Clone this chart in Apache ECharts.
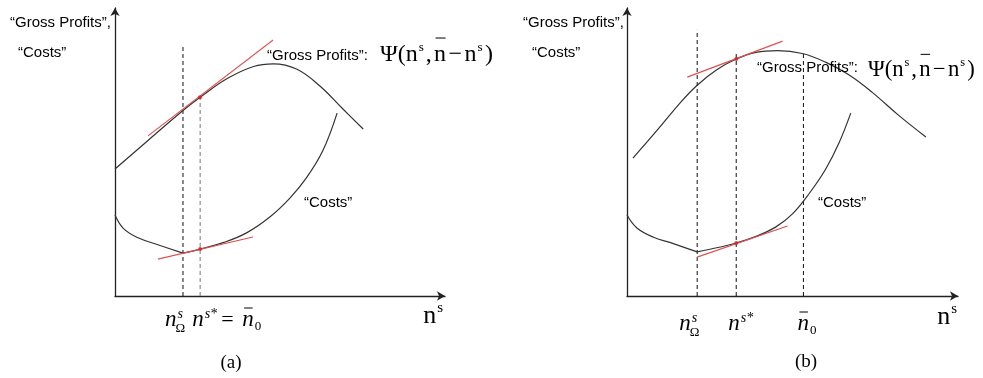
<!DOCTYPE html>
<html>
<head>
<meta charset="utf-8">
<script src="https://cdn.jsdelivr.net/npm/echarts@6/dist/echarts.min.js"></script>
<style>
  html, body { margin: 0; padding: 0; background: #fff; }
  #chart { width: 983px; height: 378px; }
</style>
</head>
<body>
<div id="chart"></div>
<script>
// ---- Panel (a): n^s* coincides with n̄0 ----
const grossA = [[0, 4.41], [1.0, 5.40], [2.06, 6.44], [2.58, 6.90], [3.4, 7.55], [4.2, 7.97],
  [4.8, 8.06], [5.5, 7.88], [6.2, 7.30], [6.9, 6.50], [7.52, 5.80]];
const costLeftA = [[0, 2.81], [0.25, 2.35], [0.7, 2.02], [1.3, 1.78], [2.06, 1.49]];
const costRightA = [[2.06, 1.49], [2.58, 1.63], [3.3, 1.86], [4.0, 2.20], [4.7, 2.75],
  [5.3, 3.40], [5.8, 4.10], [6.3, 5.05], [6.73, 6.35]];
const grossTangentA = [[1.0, 5.56], [4.79, 8.89]];
const costTangentA = [[1.30, 1.28], [4.18, 2.05]];
const nOmegaA = 2.06;
const nStarA = 2.58;
const dashTopA = [8.75, 6.90];          // tops of the dashed guides at nOmega, nStar
const tangentPointsA = [[2.58, 6.90], [2.58, 1.63]];

// ---- Panel (b): n^s* lies left of n̄0 ----
const grossB = [[0.18, 4.79], [0.9, 5.74], [1.6, 6.70], [2.12, 7.32], [2.7, 7.85], [3.3, 8.23],
  [3.9, 8.46], [4.55, 8.52], [5.3, 8.42], [6.0, 8.12], [6.7, 7.68], [7.4, 7.08],
  [8.2, 6.28], [9.03, 5.52]];
const costLeftB = [[0, 2.81], [0.3, 2.36], [0.8, 2.04], [1.4, 1.82], [2.12, 1.53]];
const costRightB = [[2.12, 1.53], [2.82, 1.70], [3.3, 1.84], [3.9, 2.07], [4.5, 2.40],
  [5.0, 2.85], [5.5, 3.55], [6.0, 4.40], [6.4, 5.30], [6.76, 6.35]];
const grossTangentB = [[1.82, 7.60], [4.70, 8.85]];
const costTangentB = [[2.12, 1.35], [4.85, 2.43]];
const nOmegaB = 2.12;
const nStarB = 3.30;
const nBar0B = 5.33;
const dashTopB = [9.24, 8.44, 8.44];    // tops at nOmega, nStar, n̄0
const tangentPointsB = [[3.30, 8.23], [3.30, 1.84]];

const CURVE = '#333';
const RED = '#e0504f';
const SANS = '"Liberation Sans", Arial, sans-serif';
const SERIF = '"Liberation Serif", "Times New Roman", serif';

const chart = echarts.init(document.getElementById('chart'), null, { renderer: 'canvas' });

function axisPair(idx) {
  const line = {
    show: true,
    symbol: ['none', 'arrow'],
    symbolSize: [7, 8],
    lineStyle: { color: '#222', width: 1.3 }
  };
  const base = { type: 'value', gridIndex: idx, min: 0, max: 10, axisLine: line,
    axisTick: { show: false }, axisLabel: { show: false }, splitLine: { show: false } };
  return { x: Object.assign({}, base), y: Object.assign({}, base) };
}
const axA = axisPair(0), axB = axisPair(1);

function curve(data, idx) {
  return { type: 'line', xAxisIndex: idx, yAxisIndex: idx, data: data, smooth: 0.4,
           symbol: 'none', silent: true, clip: false,
           lineStyle: { color: CURVE, width: 1.2 } };
}
function straight(data, idx, color) {
  return { type: 'line', xAxisIndex: idx, yAxisIndex: idx, data: data, smooth: false,
           symbol: 'none', silent: true, clip: false,
           lineStyle: { color: color, width: 1.1 } };
}
function guide(x, top, idx, color) {
  return { type: 'line', xAxisIndex: idx, yAxisIndex: idx, data: [[x, 0], [x, top]],
           symbol: 'none', silent: true, clip: false,
           lineStyle: { color: color || '#111', width: 1, type: [4, 3] } };
}
function dots(data, idx) {
  return { type: 'scatter', xAxisIndex: idx, yAxisIndex: idx, data: data, symbolSize: 4,
           silent: true, itemStyle: { color: '#d42020' }, z: 5 };
}

chart.setOption({
  animation: false,
  backgroundColor: '#fff',
  grid: [
    { left: 115, top: 8, width: 330, height: 288 },
    { left: 627, top: 8, width: 331, height: 288 }
  ],
  xAxis: [axA.x, axB.x],
  yAxis: [axA.y, axB.y],
  series: [
    guide(nOmegaA, dashTopA[0], 0),
    guide(nStarA, dashTopA[1], 0, '#777'),
    curve(grossA, 0),
    curve(costLeftA, 0),
    curve(costRightA, 0),
    straight(grossTangentA, 0, RED),
    straight(costTangentA, 0, RED),
    dots(tangentPointsA, 0),

    guide(nOmegaB, dashTopB[0], 1),
    guide(nStarB, dashTopB[1], 1),
    guide(nBar0B, dashTopB[2], 1),
    curve(grossB, 1),
    curve(costLeftB, 1),
    curve(costRightB, 1),
    straight(grossTangentB, 1, RED),
    straight(costTangentB, 1, RED),
    dots(tangentPointsB, 1)
  ]
});

// ---- text layer: labels and math notation ----
const measureCtx = document.createElement('canvas').getContext('2d');
const K_SERIF = 0.3375, K_SANS = 0.3465;   // offset from alphabetic baseline to 'middle'
function fontOf(size, italic, sans) {
  return (italic ? 'italic ' : '') + size + 'px ' + (sans ? SANS : SERIF);
}
function widthOf(str, size, italic, sans) {
  measureCtx.font = fontOf(size, italic, sans);
  return measureCtx.measureText(str).width;
}
function txt(str, x, baseline, size, opts) {
  opts = opts || {};
  const k = opts.sans ? K_SANS : K_SERIF;
  return {
    type: 'text', x: x, y: baseline - k * size, silent: true, z: 20,
    style: {
      text: str, fill: '#000', align: opts.align || 'left', verticalAlign: 'middle',
      font: fontOf(size, opts.italic, opts.sans)
    }
  };
}
function bar(x1, x2, y) {
  return { type: 'line', silent: true, z: 20, shape: { x1: x1, y1: y, x2: x2, y2: y },
           style: { stroke: '#000', lineWidth: 1 } };
}

// Lay out a run of pieces left to right; sizes, rises and gaps are in em of base size s.
function flow(pieces, x0, b, s) {
  const out = [];
  let x = x0;
  pieces.forEach(function (p) {
    x += (p.gap || 0) * s;
    const size = (p.size || 1) * s;
    const w = widthOf(p.t, size, p.italic);
    out.push(txt(p.t, x, b - (p.rise || 0) * s, size, { italic: p.italic }));
    if (p.bar) out.push(bar(x + 0.06 * s, x + w - 0.02 * s, b - 1.04 * s));
    x += w + (p.after || 0) * s;
  });
  return { elements: out, width: x - x0 };
}
const psiPieces = [
  { t: 'Ψ(n' },
  { t: 's', size: 0.55, rise: 0.47, gap: 0.04 },
  { t: ',', gap: 0.08 },
  { t: 'n', bar: true, gap: 0.1 },
  { t: '−', gap: 0.1 },
  { t: 'n', gap: 0.1 },
  { t: 's', size: 0.55, rise: 0.47, gap: 0.04 },
  { t: ')', gap: 0.1 }
];
// Ψ(nˢ, n̄ − nˢ) fitted to a given width
function psi(x0, b, width) {
  const trial = flow(psiPieces, 0, 0, 22);
  const s = 22 * width / trial.width;
  return flow(psiPieces, x0, b, s).elements;
}
function nOmegaLabel(px, b) {
  const left = px - 18, wn = widthOf('n', 23, true);
  return [
    txt('n', left, b, 23, { italic: true }),
    txt('s', left + wn + 1, b - 9, 14, { italic: true }),
    txt('Ω', left + wn - 1, b + 5, 13)
  ];
}
function nStarLabel(px, b) {
  const left = px - 8, wn = widthOf('n', 23, true);
  return [
    txt('n', left, b, 23, { italic: true }),
    txt('s*', left + wn + 1, b - 9, 14, { italic: true })
  ];
}
function nBarZeroLabel(left, b) {
  const wn = widthOf('n', 23, true);
  return [
    txt('n', left, b, 23, { italic: true }),
    bar(left + 2, left + wn - 1, b - 20),
    txt('0', left + wn + 1, b + 3, 13)
  ];
}
function nsName(right, b) {
  const wn = widthOf('n', 26), ws = widthOf('s', 15);
  const left = right - wn - ws - 1;
  return [txt('n', left, b, 26), txt('s', left + wn + 1, b - 12, 15)];
}

function px(idx, x) {
  return chart.convertToPixel({ xAxisIndex: idx, yAxisIndex: idx }, [x, 0])[0];
}
const pOA = px(0, nOmegaA), pSA = px(0, nStarA);
const pOB = px(1, nOmegaB), pSB = px(1, nStarB), pNB = px(1, nBar0B);
const axisEndA = px(0, 10), axisEndB = px(1, 10);

const g = [];
// panel (a)
g.push(txt('“Gross Profits”,', 10, 28, 15, { sans: true }));
g.push(txt('“Costs”', 18, 58, 15, { sans: true }));
g.push(txt('“Gross Profits”:', 267, 61, 15, { sans: true }));
g.push(...psi(380, 63, 113));
g.push(txt('“Costs”', 304, 208, 15, { sans: true }));
g.push(...nOmegaLabel(pOA, 328));
g.push(...nStarLabel(pSA, 328));
g.push(txt('=', pSA + 21, 328, 22));
g.push(...nBarZeroLabel(pSA + 42, 328));
g.push(...nsName(axisEndA - 2, 325));
g.push(txt('(a)', 231, 369, 19, { align: 'center' }));
// panel (b)
g.push(txt('“Gross Profits”,', 523, 28, 15, { sans: true }));
g.push(txt('“Costs”', 532, 58, 15, { sans: true }));
g.push(txt('“Gross Profits”:', 757, 73, 15, { sans: true }));
g.push(...psi(868, 78, 107));
g.push(txt('“Costs”', 818, 208, 15, { sans: true }));
g.push(...nOmegaLabel(pOB, 332));
g.push(...nStarLabel(pSB, 332));
g.push(...nBarZeroLabel(pNB - 6, 332));
g.push(...nsName(axisEndB - 1, 326));
g.push(txt('(b)', 806, 368, 19, { align: 'center' }));

chart.setOption({ graphic: { elements: g } });
</script>
</body>
</html>
